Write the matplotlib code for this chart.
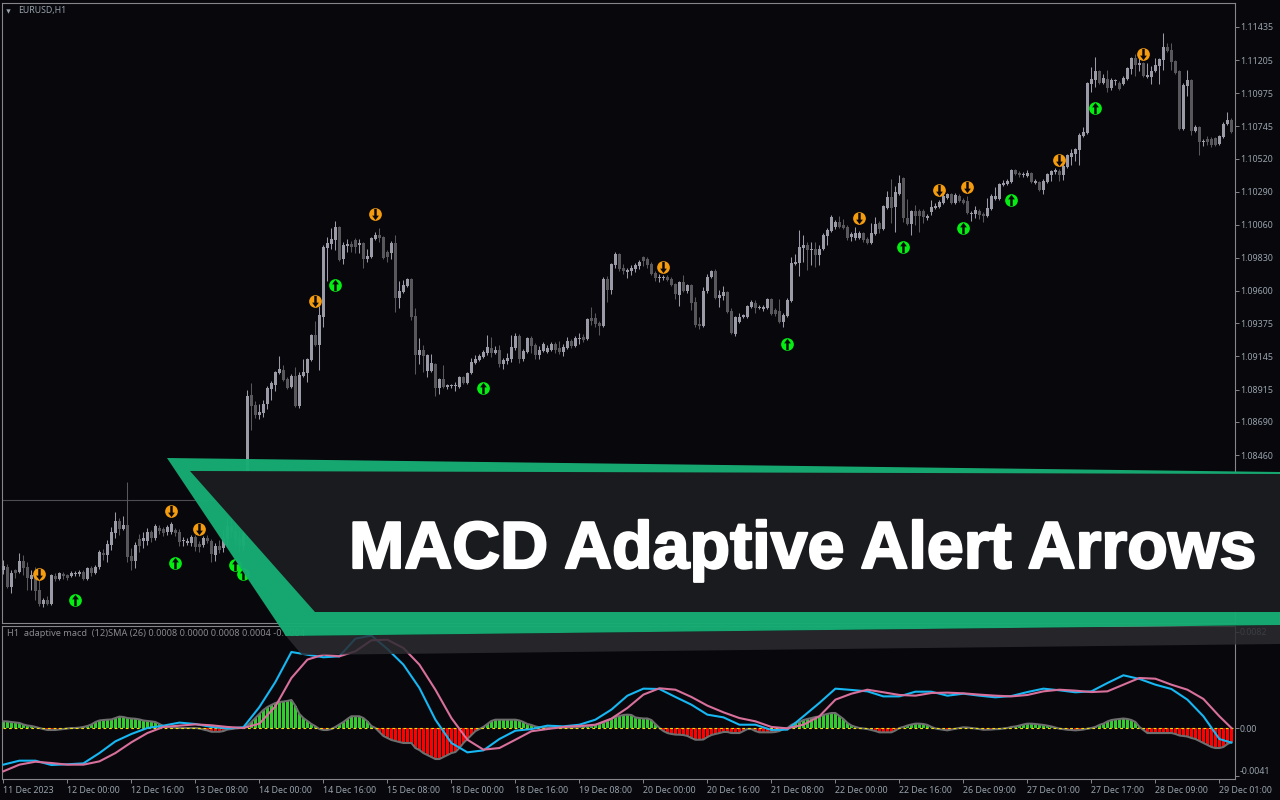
import matplotlib
matplotlib.use('Agg')
import matplotlib.pyplot as plt
import numpy as np
import matplotlib.patheffects as pe
from matplotlib.patches import Polygon
from matplotlib.path import Path

# Prices are stored as points above 1.07000 (1 point = 0.00001)
base = 1.07

opens = [661,681,542,661,647,723,681,598,619,522,
424,452,424,619,598,633,626,619,633,633,
647,598,675,640,681,779,765,834,918,1001,
946,974,758,723,876,862,862,925,883,953,
946,925,925,939,925,862,848,848,890,841,
834,883,862,765,827,814,876,967,932,883,
827,911,1877,1807,1738,1752,1814,1919,1946,2030,
2051,1988,1933,2009,1800,2009,2030,2120,2294,2225,
2419,2899,2926,2954,3045,2822,2912,2926,2954,2920,
2933,2822,2836,2961,2989,2975,2871,2864,2933,2551,
2593,2634,2683,2426,2155,2190,2044,2044,2092,1925,
1988,1933,1939,1939,1933,2002,1960,2030,2099,2120,
2141,2169,2204,2169,2190,2092,2113,2127,2204,2287,
2127,2176,2273,2225,2155,2183,2176,2190,2231,2204,
2176,2204,2252,2218,2266,2280,2266,2412,2412,2377,
2356,2683,2607,2780,2857,2760,2732,2739,2753,2773,
2836,2822,2787,2725,2690,2690,2697,2683,2648,2572,
2662,2600,2641,2523,2370,2356,2600,2697,2739,2551,
2565,2593,2461,2301,2384,2419,2419,2489,2516,2482,
2475,2482,2544,2468,2461,2384,2426,2530,2787,2794,
2899,2920,2885,2892,2850,2892,2982,3017,3045,3079,
3058,3045,2975,2968,2968,3003,2961,2933,2996,3072,
3031,3176,3253,3183,3274,3385,3107,3065,3156,3156,
3156,3107,3149,3176,3183,3211,3246,3274,3211,3260,
3232,3225,3135,3135,3156,3135,3121,3170,3239,3239,
3336,3343,3357,3441,3420,3406,3399,3420,3350,3357,
3302,3357,3406,3427,3434,3406,3462,3531,3552,3580,
3677,3698,4038,4066,4129,4045,4073,4010,4059,4045,
4038,4073,4143,4219,4170,4184,4087,4087,4129,4163,
4205,4295,4274,4198,4129,3725,4024,4066,3712,3739,
3635,3656,3656,3663,3621,3670,3760,3788]

closes = [688,542,640,640,723,675,605,626,515,424,
452,424,626,598,640,619,605,640,640,647,
598,675,640,681,786,765,841,925,1001,946,
974,751,723,834,827,883,925,883,967,932,
918,960,981,918,855,869,862,890,820,820,
883,862,772,827,800,883,967,925,869,827,
918,1870,1800,1738,1759,1814,1925,1960,2037,2058,
1981,1925,2009,1800,2016,2037,2127,2294,2225,2433,
2906,2933,2961,3045,2815,2920,2926,2906,2906,2933,
2822,2843,2968,2989,2968,2829,2836,2933,2551,2600,
2641,2683,2419,2155,2190,2148,2155,2099,1925,1988,
1933,1946,1946,1946,2002,1960,2030,2106,2127,2148,
2176,2211,2169,2190,2092,2120,2134,2211,2287,2127,
2183,2273,2218,2155,2190,2231,2204,2231,2190,2176,
2211,2252,2218,2273,2273,2259,2405,2391,2370,2356,
2683,2607,2787,2857,2753,2739,2746,2760,2780,2801,
2808,2780,2718,2690,2697,2697,2676,2641,2579,2662,
2600,2641,2516,2363,2356,2600,2697,2739,2551,2572,
2593,2454,2308,2419,2419,2433,2496,2523,2482,2489,
2489,2544,2440,2440,2384,2433,2537,2794,2801,2906,
2920,2885,2892,2850,2892,2989,3024,3114,3079,3045,
3038,2968,2996,3003,3003,2954,2933,3003,3065,3031,
3190,3253,3176,3288,3350,3107,3065,3156,3121,3121,
3114,3121,3183,3190,3218,3260,3274,3211,3267,3225,
3211,3142,3142,3163,3128,3121,3176,3260,3260,3343,
3350,3364,3441,3413,3406,3413,3420,3357,3364,3302,
3364,3413,3434,3441,3406,3469,3545,3559,3587,3684,
3705,4045,4073,4129,4045,4080,4010,4066,4066,4004,
4080,4149,4219,4170,4184,4094,4101,4129,4170,4212,
4295,4267,4191,4115,3725,4031,4066,3712,3739,3635,
3642,3635,3614,3614,3677,3760,3788,3705]

highs = [730,702,661,668,779,765,716,661,681,591,
466,480,633,640,647,647,633,654,654,661,
661,681,688,695,800,807,869,960,1064,1022,
1036,1272,814,855,911,925,953,939,981,974,
960,974,995,953,946,890,883,904,904,862,
897,904,876,848,869,939,1022,1036,995,939,
953,1912,1960,1835,1814,1842,1939,1974,2044,2148,
2086,2002,2023,2072,2037,2127,2134,2301,2391,2496,
2920,2975,3038,3086,3052,2940,2961,2947,2968,2961,
2940,2892,2975,3010,3038,2982,2885,2947,2989,2669,
2676,2690,2690,2482,2273,2225,2162,2162,2099,1995,
2086,1953,1953,1967,2009,2009,2037,2134,2155,2162,
2190,2294,2280,2218,2225,2134,2169,2294,2308,2301,
2197,2280,2287,2238,2218,2245,2225,2245,2245,2252,
2231,2280,2266,2287,2308,2301,2412,2489,2447,2391,
2697,2704,2794,2871,2864,2787,2760,2780,2794,2815,
2843,2836,2801,2739,2718,2711,2711,2697,2655,2669,
2711,2648,2648,2558,2419,2627,2718,2746,2753,2607,
2634,2600,2482,2426,2447,2440,2503,2537,2537,2503,
2503,2551,2551,2482,2544,2447,2551,2836,2857,3024,
2989,2940,2940,2940,2920,3003,3038,3128,3093,3121,
3100,3058,3010,3045,3017,3010,2975,3072,3114,3086,
3197,3295,3378,3330,3406,3392,3239,3163,3197,3170,
3170,3135,3232,3211,3232,3274,3281,3281,3281,3274,
3246,3260,3156,3190,3170,3149,3246,3274,3323,3350,
3371,3378,3448,3448,3434,3427,3441,3427,3378,3364,
3378,3420,3441,3455,3448,3496,3552,3587,3594,3698,
3739,4052,4156,4226,4136,4108,4136,4080,4073,4059,
4094,4156,4226,4247,4254,4191,4184,4163,4219,4219,
4393,4323,4323,4205,4136,4045,4136,4073,3753,3746,
3656,3677,3670,3670,3684,3774,3844,3802]

lows = [633,535,501,605,640,626,522,522,452,411,
404,417,417,584,591,598,591,612,619,619,
591,591,619,633,668,730,716,800,883,904,
939,716,661,675,786,814,834,855,869,911,
897,904,911,897,827,827,834,827,793,786,
820,848,716,723,779,786,834,883,827,786,
800,883,1634,1717,1710,1724,1780,1842,1905,2023,
1974,1919,1925,1793,1786,2002,1967,2113,2218,2051,
2350,2669,2892,2885,2808,2787,2871,2871,2864,2864,
2760,2801,2829,2954,2940,2822,2801,2822,2454,2482,
2586,2627,2398,2023,2092,2037,2002,2037,1870,1884,
1925,1919,1925,1905,1925,1953,1953,2023,2092,2113,
2134,2155,2141,2162,2072,2058,2092,2106,2190,2099,
2113,2169,2169,2127,2127,2176,2169,2183,2169,2162,
2148,2197,2204,2211,2231,2245,2259,2363,2350,2294,
2350,2523,2579,2760,2739,2718,2690,2711,2732,2753,
2773,2760,2711,2669,2662,2676,2669,2634,2544,2496,
2593,2586,2468,2350,2336,2350,2586,2690,2544,2489,
2537,2447,2301,2287,2377,2412,2412,2482,2447,2475,
2461,2475,2433,2426,2377,2350,2419,2523,2780,2704,
2801,2746,2780,2766,2780,2885,2920,3010,3031,3038,
3031,2954,2947,2954,2961,2940,2926,2926,2989,3003,
3024,3170,3072,3010,3267,3079,3058,2989,3058,3010,
3072,3093,3128,3170,3176,3204,3239,3204,3204,3218,
3204,3135,3086,3107,3100,3079,3114,3163,3232,3232,
3330,3336,3350,3406,3392,3392,3392,3350,3343,3295,
3274,3350,3364,3413,3364,3371,3455,3475,3503,3475,
3670,3691,3983,4017,4038,4038,3983,3997,4031,3997,
4031,4066,4108,4094,4129,4087,4080,4038,4122,4038,
4136,4261,4136,4108,3719,3719,3955,3684,3705,3545,
3607,3614,3600,3607,3614,3663,3753,3698]

# Arrow signals: bar number and price in points
sell_bars = [9, 42, 49, 78, 93, 165, 214, 234, 241, 264, 285]
sell_prices = [633, 1073, 946, 2530, 3135, 2767, 3107, 3302, 3323, 3510, 4247]
buy_bars = [18, 43, 58, 60, 83, 120, 196, 225, 240, 252, 273]
buy_prices = [452, 709, 695, 633, 2641, 1925, 2231, 2906, 3038, 3232, 3871]

# MACD panel, values in 0.00001
hist_values = [57,56,51,47,43,30,21,17,9,0,
-9,-17,-17,-17,-13,-9,-4,0,0,3,
9,17,30,51,64,68,71,73,85,97,
94,85,81,79,73,64,60,56,51,34,
17,9,4,3,0,0,0,0,0,-4,
-13,-21,-32,-32,-32,-26,-13,-9,-4,0,
0,21,51,85,120,154,179,196,214,222,
226,231,239,188,120,85,60,34,15,-9,
-17,-17,-9,9,30,51,77,100,100,100,
85,56,17,0,-34,-68,-85,-102,-111,-120,
-128,-128,-128,-171,-188,-214,-231,-248,-265,-265,
-248,-231,-214,-205,-171,-128,-94,-60,-26,-9,
9,34,60,71,71,71,71,71,71,64,
51,34,26,13,6,4,3,3,3,3,
3,3,3,4,9,13,15,17,26,34,
47,60,77,94,102,111,114,111,90,85,
81,81,68,34,0,-26,-43,-51,-56,-57,
-60,-68,-85,-100,-100,-98,-77,-60,-51,-43,
-34,-34,-43,-43,-43,-26,-9,-9,-26,-37,
-37,-37,-37,-34,-26,-9,0,26,43,51,
68,77,85,94,98,111,120,128,128,102,
77,43,21,9,0,-4,-9,-17,-26,-37,
-37,-37,-37,-21,0,9,21,30,37,37,
34,26,9,-4,-10,-15,-20,-13,-7,0,
6,4,0,-4,-9,-15,-14,-13,-10,-9,
-4,0,9,13,21,30,37,37,34,30,
26,20,13,4,-6,-10,-15,-17,-20,-17,
-13,-6,0,9,26,37,56,68,73,77,
81,77,68,51,9,-17,-43,-43,-43,-43,
-43,-43,-43,-51,-64,-68,-73,-85,-94,-111,
-128,-145,-162,-171,-171,-162,-137,-120]

# the two lines were read every 4 bars
line_bars = list(range(0, 305, 4)) + [307]
macd_line = [-313,-279,-279,-316,-310,-302,-214,-114,-51,0,
20,46,34,9,-3,6,179,393,649,626,
604,612,763,789,675,541,342,71,-128,-208,
-191,-94,-23,-9,20,14,28,71,157,276,
336,333,265,199,114,91,28,28,-17,-14,
100,214,336,325,313,270,270,310,310,276,
293,276,262,273,307,336,322,305,313,384,
450,419,370,333,242,100,-94,-125]
signal_line = [-370,-313,-288,-299,-313,-313,-285,-214,-122,-43,
9,20,31,23,9,0,37,185,427,584,
626,612,655,749,754,683,541,327,85,-100,
-185,-171,-100,-28,-9,9,17,28,80,171,
285,339,327,265,191,134,85,57,9,-3,
28,100,242,293,327,305,282,276,299,302,
296,285,276,270,282,313,327,319,307,313,
370,427,421,370,327,248,100,0]

price_ticks = [1.11435, 1.11205, 1.10975, 1.10745, 1.10520, 1.10290, 1.10060,
               1.09830, 1.09600, 1.09375, 1.09145, 1.08915, 1.08690, 1.08460]
time_labels = ['11 Dec 2023', '12 Dec 00:00', '12 Dec 16:00', '13 Dec 08:00', '14 Dec 00:00',
               '14 Dec 16:00', '15 Dec 08:00', '18 Dec 00:00', '18 Dec 16:00', '19 Dec 08:00',
               '20 Dec 00:00', '20 Dec 16:00', '21 Dec 08:00', '22 Dec 00:00', '22 Dec 16:00',
               '26 Dec 09:00', '27 Dec 01:00', '27 Dec 17:00', '28 Dec 09:00', '29 Dec 01:00']
title = 'MACD Adaptive Alert Arrows'

bg = '#07070c'
frame = '#85858a'
label_col = '#98a2ac'
up_col = '#9b9ba8'
down_col = '#58585c'
plt.rcParams['font.family'] = ['Noto Sans', 'DejaVu Sans']

o = base + np.array(opens) / 1e5
c = base + np.array(closes) / 1e5
h = base + np.array(highs) / 1e5
l = base + np.array(lows) / 1e5
bars = np.arange(len(o))
up = c >= o
colors = np.where(up, up_col, down_col)

fig = plt.figure(figsize=(12.8, 8), dpi=100, facecolor=bg)
ax = fig.add_axes([2 / 1280, 177.5 / 800, 1232.5 / 1280, 620 / 800], facecolor=bg)
ax2 = fig.add_axes([2 / 1280, 21 / 800, 1232.5 / 1280, 153 / 800], facecolor=bg)

# candles
ax.axhline(1.08147, color='#4c4c52', lw=0.8, zorder=1)
ax.vlines(bars, l, h, colors=colors, lw=0.75, zorder=2)
ax.bar(bars, np.maximum(np.abs(c - o), 0.00007), bottom=np.minimum(o, c), width=0.75,
       color=colors, linewidth=0, zorder=3)

# arrows: coloured disc with a dark arrow cut in it
arrow_up = Path([(0, 1), (0.6, 0.2), (0.22, 0.2), (0.22, -1), (-0.22, -1), (-0.22, 0.2), (-0.6, 0.2), (0, 1)], closed=True)
arrow_down = Path([(0, -1), (0.6, -0.2), (0.22, -0.2), (0.22, 1), (-0.22, 1), (-0.22, -0.2), (-0.6, -0.2), (0, -1)], closed=True)
ax.scatter(buy_bars, base + np.array(buy_prices) / 1e5, s=84, color='#04ee12', linewidths=0, zorder=5)
ax.scatter(buy_bars, base + np.array(buy_prices) / 1e5, s=66, marker=arrow_up, color=bg, linewidths=0, zorder=6)
ax.scatter(sell_bars, base + np.array(sell_prices) / 1e5, s=84, color='#f59c0e', linewidths=0, zorder=5)
ax.scatter(sell_bars, base + np.array(sell_prices) / 1e5, s=66, marker=arrow_down, color=bg, linewidths=0, zorder=6)

ax.set_xlim(-0.35, 307.775)
ax.set_ylim(1.07296, 1.11605)
ax.set_xticks([])
ax.yaxis.tick_right()
ax.set_yticks(price_ticks)
ax.set_yticklabels(['%.5f' % p for p in price_ticks])
ax.tick_params(axis='y', colors=label_col, labelsize=6.4, length=3, width=0.7, pad=1, color=frame)
for s in ax.spines.values():
    s.set_color(frame)
    s.set_linewidth(0.8)
ax.text(16 / 1232, 1 - 7.5 / 620, 'EURUSD,H1', transform=ax.transAxes, color=label_col,
        fontsize=6.3, va='center', ha='left')
ax.scatter([6 / 1232], [1 - 8 / 620], transform=ax.transAxes, marker='v', s=10, color=label_col, linewidths=0)

# MACD panel
hist = np.array(hist_values) / 1e5
ax2.bar(bars, hist, width=0.75, color=np.where(hist >= 0, '#33cc2e', '#ff0000'), linewidth=0, zorder=2)
ax2.plot(bars, hist, color='#6e6e6e', lw=1.5, zorder=3)
ax2.plot([-0.2, 307.5], [0, 0], color='#f2e600', lw=0.8, ls=(0, (2.5, 2.5)), zorder=4)
ax2.plot(line_bars, np.array(macd_line) / 1e5, color='#16b7f2', lw=1.5, zorder=5)
ax2.plot(line_bars, np.array(signal_line) / 1e5, color='#d8709c', lw=1.5, zorder=6)
ax2.set_xlim(-0.35, 307.775)
ax2.set_ylim(-0.004355, 0.00871)
ax2.yaxis.tick_right()
ax2.set_yticks([0.0082, 0, -0.0041])
ax2.set_yticklabels(['0.0082', '0.00', '-0.0041'])
ax2.get_yticklabels()[2].set_va('bottom')
ax2.tick_params(axis='y', colors=label_col, labelsize=6.4, length=3, width=0.7, pad=1, color=frame)
ax2.set_xticks(np.arange(0, 308, 16))
ax2.set_xticklabels(time_labels, ha='left')
ax2.tick_params(axis='x', colors=label_col, labelsize=6.4, length=3, width=0.7, pad=2, color=frame)
for s in ax2.spines.values():
    s.set_color(frame)
    s.set_linewidth(0.8)
ax2.text(5 / 1232, 1 - 8 / 153, 'H1  adaptive macd  (12)SMA (26) 0.0008 0.0000 0.0008 0.0004 -0.0004',
         transform=ax2.transAxes, color='#8a8a8e', fontsize=6.6, va='center', ha='left', zorder=1)

# banner on top of everything, in pixel coordinates
over = fig.add_axes([0, 0, 1, 1], facecolor='none')
over.set_xlim(0, 1280)
over.set_ylim(800, 0)
over.axis('off')
over.add_patch(Polygon([(286, 636), (302, 655), (1280, 644), (1280, 625)], closed=True,
                       facecolor='#2b2b30', alpha=0.85, linewidth=0))
over.add_patch(Polygon([(167, 458), (1280, 472), (1280, 625), (286, 636)], closed=True,
                       facecolor='#17ad74', alpha=0.97, linewidth=0))
over.add_patch(Polygon([(190, 471), (1280, 474), (1280, 612), (315, 612)], closed=True,
                       facecolor='#1a1b1e', linewidth=0))
over.text(349, 568, title, color='white', fontsize=47.8, fontweight='bold', family='Liberation Sans',
          va='baseline', ha='left',
          path_effects=[pe.withStroke(linewidth=1.6, foreground='white')])

fig.savefig('out.png', dpi=100, facecolor=bg)
